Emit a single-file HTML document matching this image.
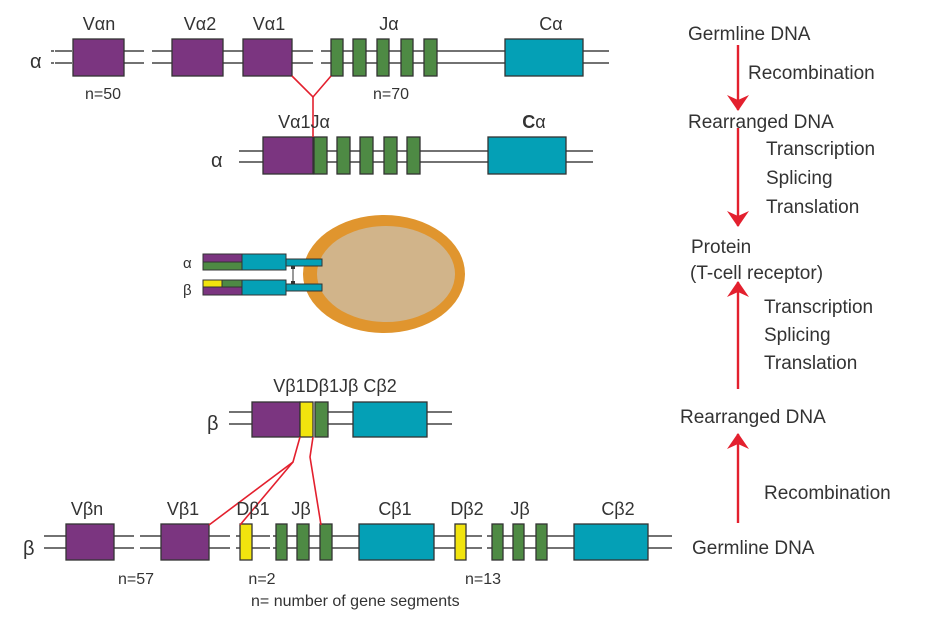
<!DOCTYPE html>
<html><head><meta charset="utf-8"><style>
body{margin:0;background:#fff}
svg{display:block}
text{font-family:"Liberation Sans",sans-serif;fill:#333}
</style></head><body>
<svg width="943" height="618" viewBox="0 0 943 618" xmlns="http://www.w3.org/2000/svg">
<defs>
<marker id="ah" viewBox="0 0 16 22" refX="15" refY="11" markerWidth="16" markerHeight="22" orient="auto" markerUnits="userSpaceOnUse">
<path d="M0,0 L16,11 L0,22 L5,11 z" fill="#e3202e"/></marker>
</defs>
<g stroke="#444" stroke-width="1.6">
<line x1="51" y1="51" x2="73" y2="51" stroke-dasharray="3 1 14 0"/><line x1="51" y1="63" x2="73" y2="63" stroke-dasharray="3 1 14 0"/>
<line x1="124" y1="51" x2="144" y2="51"/><line x1="124" y1="63" x2="144" y2="63"/>
<line x1="152" y1="51" x2="172" y2="51"/><line x1="152" y1="63" x2="172" y2="63"/>
<line x1="223" y1="51" x2="243" y2="51"/><line x1="223" y1="63" x2="243" y2="63"/>
<line x1="292" y1="51" x2="313" y2="51"/><line x1="292" y1="63" x2="313" y2="63"/>
<line x1="321" y1="51" x2="505" y2="51"/><line x1="321" y1="63" x2="505" y2="63"/>
<line x1="583" y1="51" x2="609" y2="51"/><line x1="583" y1="63" x2="609" y2="63"/>
<g stroke="#333" stroke-width="1.3">
<rect x="73" y="39" width="51" height="37" fill="#7b3580"/>
<rect x="172" y="39" width="51" height="37" fill="#7b3580"/>
<rect x="243" y="39" width="49" height="37" fill="#7b3580"/>
<rect x="331" y="39" width="12" height="37" fill="#4e8a44"/>
<rect x="353" y="39" width="13" height="37" fill="#4e8a44"/>
<rect x="377" y="39" width="12" height="37" fill="#4e8a44"/>
<rect x="401" y="39" width="12" height="37" fill="#4e8a44"/>
<rect x="424" y="39" width="13" height="37" fill="#4e8a44"/>
<rect x="505" y="39" width="78" height="37" fill="#04a0b6"/>
</g>
<line x1="239" y1="151" x2="263" y2="151"/><line x1="239" y1="162" x2="263" y2="162"/>
<line x1="313" y1="151" x2="488" y2="151"/><line x1="313" y1="162" x2="488" y2="162"/>
<line x1="566" y1="151" x2="593" y2="151"/><line x1="566" y1="162" x2="593" y2="162"/>
<g stroke="#333" stroke-width="1.3">
<rect x="263" y="137" width="50" height="37" fill="#7b3580"/>
<rect x="314" y="137" width="13" height="37" fill="#4e8a44"/>
<rect x="337" y="137" width="13" height="37" fill="#4e8a44"/>
<rect x="360" y="137" width="13" height="37" fill="#4e8a44"/>
<rect x="384" y="137" width="13" height="37" fill="#4e8a44"/>
<rect x="407" y="137" width="13" height="37" fill="#4e8a44"/>
<rect x="488" y="137" width="78" height="37" fill="#04a0b6"/>
</g>
<line x1="229" y1="412" x2="252" y2="412"/><line x1="229" y1="424" x2="252" y2="424"/>
<line x1="328" y1="412" x2="353" y2="412"/><line x1="328" y1="424" x2="353" y2="424"/>
<line x1="427" y1="412" x2="452" y2="412"/><line x1="427" y1="424" x2="452" y2="424"/>
<g stroke="#333" stroke-width="1.3">
<rect x="252" y="402" width="48" height="35" fill="#7b3580"/>
<rect x="300" y="402" width="13" height="35" fill="#f1e40e"/>
<rect x="315" y="402" width="13" height="35" fill="#4e8a44"/>
<rect x="353" y="402" width="74" height="35" fill="#04a0b6"/>
</g>
<line x1="44" y1="536" x2="66" y2="536"/><line x1="44" y1="548" x2="66" y2="548"/>
<line x1="114" y1="536" x2="134" y2="536"/><line x1="114" y1="548" x2="134" y2="548"/>
<line x1="140" y1="536" x2="161" y2="536"/><line x1="140" y1="548" x2="161" y2="548"/>
<line x1="209" y1="536" x2="230" y2="536"/><line x1="209" y1="548" x2="230" y2="548"/>
<line x1="236" y1="536" x2="270" y2="536"/><line x1="236" y1="548" x2="270" y2="548"/>
<line x1="273" y1="536" x2="482" y2="536"/><line x1="273" y1="548" x2="482" y2="548"/>
<line x1="487" y1="536" x2="672" y2="536"/><line x1="487" y1="548" x2="672" y2="548"/>
<g stroke="#333" stroke-width="1.3">
<rect x="66" y="524" width="48" height="36" fill="#7b3580"/>
<rect x="161" y="524" width="48" height="36" fill="#7b3580"/>
<rect x="240" y="524" width="12" height="36" fill="#f1e40e"/>
<rect x="276" y="524" width="11" height="36" fill="#4e8a44"/>
<rect x="297" y="524" width="12" height="36" fill="#4e8a44"/>
<rect x="320" y="524" width="12" height="36" fill="#4e8a44"/>
<rect x="359" y="524" width="75" height="36" fill="#04a0b6"/>
<rect x="455" y="524" width="11" height="36" fill="#f1e40e"/>
<rect x="492" y="524" width="11" height="36" fill="#4e8a44"/>
<rect x="513" y="524" width="11" height="36" fill="#4e8a44"/>
<rect x="536" y="524" width="11" height="36" fill="#4e8a44"/>
<rect x="574" y="524" width="74" height="36" fill="#04a0b6"/>
</g>
</g>
<g stroke="#e3202e" stroke-width="1.6" fill="none">
<polyline points="292,76 313,97 331,76"/>
<line x1="313" y1="97" x2="313" y2="137"/>
<polyline points="300,437 293,462 209,525"/>
<line x1="293" y1="462" x2="240" y2="525"/>
<polyline points="313,437 310,457 321,525"/>
</g>
<ellipse cx="384" cy="274" rx="81" ry="59" fill="#e0952e"/>
<ellipse cx="386" cy="274" rx="69" ry="48" fill="#d1b48a"/>
<g stroke="#333" stroke-width="1">
<rect x="203" y="254" width="39" height="8" fill="#7b3580"/>
<rect x="203" y="262" width="39" height="8" fill="#4e8a44"/>
<rect x="242" y="254" width="44" height="16" fill="#04a0b6"/>
<rect x="286" y="259" width="36" height="7" fill="#04a0b6"/>
<rect x="203" y="280" width="19" height="7" fill="#f1e40e"/>
<rect x="222" y="280" width="20" height="7" fill="#4e8a44"/>
<rect x="203" y="287" width="39" height="8" fill="#7b3580"/>
<rect x="242" y="280" width="44" height="15" fill="#04a0b6"/>
<rect x="286" y="284" width="36" height="7" fill="#04a0b6"/>
<line x1="293" y1="267" x2="293" y2="283"/>
</g>
<rect x="291" y="266" width="4" height="3" fill="#333"/><rect x="291" y="281" width="4" height="3" fill="#333"/>
<g font-size="18" text-anchor="middle">
<text x="99" y="30">Vαn</text><text x="200" y="30">Vα2</text><text x="269" y="30">Vα1</text>
<text x="389" y="30">Jα</text><text x="551" y="30">Cα</text>
<text x="304" y="128">Vα1Jα</text><text x="534" y="128"><tspan font-weight="bold">C</tspan>α</text>
<text x="335" y="392">Vβ1Dβ1Jβ Cβ2</text>
<text x="87" y="515">Vβn</text><text x="183" y="515">Vβ1</text><text x="253" y="515">Dβ1</text>
<text x="301" y="515">Jβ</text><text x="395" y="515">Cβ1</text><text x="467" y="515">Dβ2</text>
<text x="520" y="515">Jβ</text><text x="618" y="515">Cβ2</text>
</g>
<g font-size="20">
<text x="30" y="68">α</text><text x="211" y="167">α</text>
<text x="207" y="430">β</text><text x="23" y="555">β</text>
</g>
<g font-size="15"><text x="183" y="268">α</text><text x="183" y="295">β</text></g>
<g font-size="16" text-anchor="middle">
<text x="103" y="99">n=50</text><text x="391" y="99">n=70</text>
<text x="136" y="584">n=57</text><text x="262" y="584">n=2</text><text x="483" y="584">n=13</text>
</g>
<text x="251" y="606" font-size="16">n= number of gene segments</text>
<g stroke="#e3202e" stroke-width="2.4">
<line x1="738" y1="45" x2="738" y2="110" marker-end="url(#ah)"/>
<line x1="738" y1="128" x2="738" y2="226" marker-end="url(#ah)"/>
<line x1="738" y1="389" x2="738" y2="282" marker-end="url(#ah)"/>
<line x1="738" y1="523" x2="738" y2="434" marker-end="url(#ah)"/>
</g>
<g font-size="19">
<text x="688" y="40">Germline DNA</text>
<text x="748" y="79">Recombination</text>
<text x="688" y="128">Rearranged DNA</text>
<text x="766" y="155">Transcription</text>
<text x="766" y="184">Splicing</text>
<text x="766" y="213">Translation</text>
<text x="691" y="253">Protein</text>
<text x="690" y="279">(T-cell receptor)</text>
<text x="764" y="313">Transcription</text>
<text x="764" y="341">Splicing</text>
<text x="764" y="369">Translation</text>
<text x="680" y="423">Rearranged DNA</text>
<text x="764" y="499">Recombination</text>
<text x="692" y="554">Germline DNA</text>
</g>
</svg>
</body></html>
